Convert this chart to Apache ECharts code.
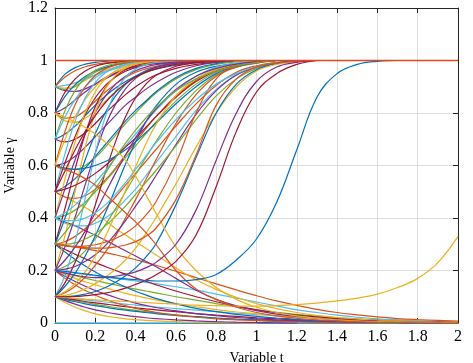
<!DOCTYPE html>
<html>
<head>
<meta charset="utf-8">
<script src="https://cdn.jsdelivr.net/npm/echarts@6/dist/echarts.min.js"></script>
<style>
  html, body { margin: 0; padding: 0; background: #fff; }
  #chart { width: 473px; height: 363px; }
</style>
</head>
<body>
<div id="chart"></div>
<script>
// shared time grid (Variable t)
const tGrid = [0, 0.05, 0.1, 0.15, 0.2, 0.25, 0.3, 0.35, 0.4, 0.45, 0.5,
  0.6, 0.7, 0.8, 0.9, 1.0, 1.1, 1.2, 1.3, 1.4, 1.5, 1.6, 1.7, 1.8, 1.9, 2.0]

// curves that settle at 1 (values stop once they reach 1)
const riseCurves = [
  [0.9, 0.948, 0.973, 0.986, 0.993, 0.997, 1],
  [0.9, 0.937, 0.961, 0.976, 0.985, 0.991, 0.995, 0.997, 1],
  [0.9, 0.895, 0.905, 0.925, 0.945, 0.962, 0.975, 0.984, 0.99, 0.994, 0.997, 1],
  [0.9, 0.885, 0.882, 0.892, 0.91, 0.93, 0.95, 0.966, 0.977, 0.985, 0.99, 0.996, 1],
  [0.9, 0.89, 0.9, 0.93, 0.955, 0.972, 0.983, 0.99, 0.995, 1],
  [0.9, 0.905, 0.915, 0.93, 0.945, 0.958, 0.969, 0.978, 0.985, 0.99, 0.993, 0.997, 1],
  [0.8, 0.88, 0.93, 0.96, 0.978, 0.988, 0.993, 0.996, 1],
  [0.8, 0.863, 0.908, 0.939, 0.96, 0.974, 0.984, 0.99, 0.993, 0.996, 1],
  [0.8, 0.78, 0.785, 0.81, 0.845, 0.88, 0.91, 0.935, 0.955, 0.968, 0.978, 0.99, 0.996, 1],
  [0.8, 0.77, 0.765, 0.78, 0.81, 0.845, 0.88, 0.91, 0.935, 0.953, 0.967, 0.985, 0.994, 1],
  [0.8, 0.82, 0.85, 0.88, 0.91, 0.935, 0.953, 0.967, 0.977, 0.985, 0.99, 0.996, 1],
  [0.7, 0.81, 0.886, 0.934, 0.963, 0.979, 0.988, 0.994, 0.997, 1],
  [0.7, 0.786, 0.852, 0.9, 0.934, 0.957, 0.972, 0.982, 0.988, 0.993, 0.995, 0.998, 1],
  [0.7, 0.69, 0.7, 0.725, 0.76, 0.8, 0.835, 0.87, 0.9, 0.925, 0.945, 0.97, 0.985, 0.993, 1],
  [0.7, 0.72, 0.75, 0.79, 0.83, 0.865, 0.895, 0.92, 0.94, 0.955, 0.967, 0.982, 0.991, 0.996, 1],
  [0.6, 0.731, 0.832, 0.9, 0.943, 0.968, 0.982, 0.99, 0.994, 0.997, 1],
  [0.6, 0.7, 0.786, 0.852, 0.9, 0.934, 0.957, 0.972, 0.982, 0.988, 0.993, 0.997, 1],
  [0.6, 0.61, 0.635, 0.67, 0.71, 0.75, 0.79, 0.83, 0.86, 0.89, 0.915, 0.955, 0.98, 0.993, 1],
  [0.6, 0.585, 0.585, 0.6, 0.63, 0.67, 0.715, 0.76, 0.8, 0.84, 0.875, 0.93, 0.965, 0.985, 0.995, 1],
  [0.5, 0.646, 0.769, 0.858, 0.917, 0.953, 0.973, 0.985, 0.992, 0.995, 0.998, 1],
  [0.5, 0.611, 0.711, 0.794, 0.858, 0.905, 0.937, 0.959, 0.973, 0.983, 0.989, 0.995, 0.998, 1],
  [0.5, 0.52, 0.55, 0.59, 0.635, 0.68, 0.725, 0.77, 0.81, 0.845, 0.88, 0.935, 0.97, 0.988, 1],
  [0.5, 0.48, 0.475, 0.485, 0.51, 0.545, 0.59, 0.64, 0.69, 0.74, 0.785, 0.865, 0.925, 0.965, 0.985, 0.995, 1],
  [0.4, 0.55, 0.69, 0.802, 0.881, 0.931, 0.961, 0.978, 0.988, 0.993, 0.996, 1],
  [0.4, 0.512, 0.622, 0.721, 0.802, 0.864, 0.909, 0.94, 0.961, 0.975, 0.984, 0.993, 0.997, 1],
  [0.4, 0.41, 0.43, 0.46, 0.5, 0.54, 0.585, 0.63, 0.675, 0.72, 0.765, 0.845, 0.91, 0.955, 0.98, 0.993, 1],
  [0.4, 0.38, 0.37, 0.37, 0.38, 0.4, 0.43, 0.47, 0.51, 0.56, 0.61, 0.71, 0.81, 0.89, 0.945, 0.975, 0.99, 1],
  [0.3, 0.438, 0.587, 0.721, 0.825, 0.896, 0.94, 0.966, 0.981, 0.99, 0.994, 0.998, 1],
  [0.3, 0.4, 0.512, 0.622, 0.721, 0.802, 0.864, 0.909, 0.94, 0.961, 0.975, 0.99, 0.996, 1],
  [0.3, 0.31, 0.33, 0.36, 0.395, 0.435, 0.48, 0.525, 0.57, 0.615, 0.66, 0.75, 0.835, 0.905, 0.955, 0.98, 0.993, 1],
  [0.2, 0.334, 0.502, 0.67, 0.804, 0.892, 0.943, 0.971, 0.985, 0.993, 0.996, 1],
  [0.2, 0.291, 0.404, 0.527, 0.648, 0.752, 0.833, 0.892, 0.932, 0.957, 0.974, 0.99, 0.996, 1],
  [0.2, 0.215, 0.24, 0.275, 0.32, 0.375, 0.435, 0.5, 0.565, 0.63, 0.69, 0.8, 0.885, 0.945, 0.975, 0.99, 1],
  [0.1, 0.182, 0.31, 0.475, 0.646, 0.786, 0.881, 0.937, 0.968, 0.984, 0.992, 0.998, 1],
  [0.1, 0.154, 0.231, 0.332, 0.45, 0.574, 0.69, 0.786, 0.858, 0.909, 0.943, 0.978, 0.992, 0.997, 1],
  [0.1, 0.14, 0.19, 0.255, 0.332, 0.42, 0.512, 0.606, 0.69, 0.765, 0.825, 0.909, 0.955, 0.978, 0.989, 0.995, 1],
  [0.1, 0.115, 0.14, 0.175, 0.22, 0.27, 0.33, 0.4, 0.47, 0.545, 0.62, 0.76, 0.87, 0.94, 0.975, 0.99, 1],
  [0.1, 0.105, 0.115, 0.13, 0.15, 0.175, 0.205, 0.24, 0.285, 0.34, 0.4, 0.53, 0.67, 0.8, 0.9, 0.96, 0.985, 0.996, 1],
  [0.2, 0.205, 0.215, 0.235, 0.26, 0.295, 0.34, 0.39, 0.445, 0.5, 0.56, 0.68, 0.795, 0.885, 0.945, 0.975, 0.99, 1],
  [0.3, 0.3, 0.305, 0.32, 0.34, 0.37, 0.405, 0.445, 0.49, 0.535, 0.58, 0.675, 0.775, 0.865, 0.93, 0.97, 0.99, 1],
  [0.4, 0.42, 0.45, 0.49, 0.535, 0.58, 0.63, 0.675, 0.72, 0.765, 0.81, 0.885, 0.94, 0.975, 0.99, 1],
  [0.5, 0.51, 0.525, 0.545, 0.57, 0.6, 0.635, 0.67, 0.705, 0.745, 0.785, 0.86, 0.92, 0.96, 0.983, 0.995, 1],
  [0.6, 0.59, 0.585, 0.59, 0.6, 0.615, 0.635, 0.66, 0.69, 0.725, 0.76, 0.835, 0.9, 0.95, 0.978, 0.992, 1],
  [0.3, 0.295, 0.292, 0.293, 0.298, 0.308, 0.322, 0.342, 0.37, 0.41, 0.46, 0.61, 0.8, 0.93, 0.98, 0.995, 1],
  [0.1, 0.12, 0.15, 0.195, 0.255, 0.33, 0.415, 0.505, 0.595, 0.68, 0.755, 0.865, 0.93, 0.966, 0.985, 0.995, 1],
  [0.2, 0.24, 0.29, 0.35, 0.42, 0.495, 0.57, 0.64, 0.705, 0.765, 0.815, 0.89, 0.94, 0.97, 0.986, 0.995, 1],
  [0.3, 0.345, 0.395, 0.45, 0.51, 0.57, 0.63, 0.685, 0.735, 0.78, 0.82, 0.885, 0.93, 0.96, 0.98, 0.992, 1],
  [0.4, 0.39, 0.39, 0.4, 0.42, 0.45, 0.49, 0.535, 0.585, 0.635, 0.685, 0.775, 0.85, 0.91, 0.95, 0.977, 0.992, 1],
  [0.5, 0.58, 0.66, 0.73, 0.79, 0.84, 0.88, 0.912, 0.937, 0.955, 0.968, 0.985, 0.994, 1],
  [0.1, 0.1, 0.103, 0.11, 0.12, 0.135, 0.155, 0.18, 0.21, 0.25, 0.3, 0.45, 0.63, 0.8, 0.91, 0.965, 0.99, 1]
]

// curves that die out towards 0
const fallCurves = [
  [0.1, 0.078, 0.06, 0.046, 0.035, 0.027, 0.021, 0.016, 0.013, 0.01, 0.008, 0.005, 0.003, 0.002, 0.001, 0],
  [0.1, 0.085, 0.072, 0.06, 0.05, 0.042, 0.035, 0.029, 0.024, 0.02, 0.017, 0.012, 0.008, 0.005, 0.003, 0.002, 0.001, 0],
  [0.1, 0.092, 0.085, 0.078, 0.071, 0.065, 0.059, 0.053, 0.048, 0.043, 0.039, 0.031, 0.024, 0.019, 0.014, 0.011, 0.008, 0.006, 0.004, 0.003, 0.002, 0.001, 0],
  [0.1, 0.096, 0.092, 0.088, 0.084, 0.08, 0.076, 0.072, 0.068, 0.065, 0.061, 0.055, 0.049, 0.043, 0.037, 0.032, 0.027, 0.022, 0.018, 0.014, 0.011, 0.008, 0.006, 0.004, 0.003, 0.002],
  [0.1, 0.094, 0.088, 0.082, 0.077, 0.072, 0.067, 0.062, 0.058, 0.054, 0.05, 0.043, 0.036, 0.03, 0.025, 0.02, 0.016, 0.012, 0.009, 0.007, 0.005, 0.004, 0.003, 0.002, 0.001, 0.001],
  [0.1, 0.09, 0.081, 0.073, 0.066, 0.06, 0.054, 0.049, 0.044, 0.04, 0.036, 0.029, 0.024, 0.019, 0.015, 0.012, 0.009, 0.007, 0.005, 0.004, 0.003, 0.002, 0.001, 0],
  [0.2, 0.17, 0.145, 0.124, 0.106, 0.09, 0.077, 0.066, 0.056, 0.048, 0.041, 0.03, 0.022, 0.016, 0.012, 0.009, 0.006, 0.004, 0.003, 0.002, 0.001, 0],
  [0.2, 0.185, 0.17, 0.157, 0.145, 0.134, 0.123, 0.113, 0.104, 0.096, 0.088, 0.074, 0.062, 0.051, 0.042, 0.035, 0.028, 0.023, 0.018, 0.015, 0.012, 0.009, 0.007, 0.005, 0.004, 0.003],
  [0.2, 0.178, 0.158, 0.14, 0.124, 0.11, 0.097, 0.086, 0.076, 0.067, 0.059, 0.046, 0.036, 0.028, 0.021, 0.016, 0.012, 0.009, 0.007, 0.005, 0.004, 0.003, 0.002, 0.001, 0.001, 0],
  [0.2, 0.19, 0.18, 0.171, 0.162, 0.153, 0.145, 0.137, 0.129, 0.122, 0.115, 0.1, 0.087, 0.074, 0.062, 0.051, 0.041, 0.033, 0.026, 0.02, 0.016, 0.012, 0.009, 0.007, 0.005, 0.004],
  [0.2, 0.195, 0.19, 0.185, 0.18, 0.175, 0.17, 0.165, 0.16, 0.155, 0.15, 0.138, 0.125, 0.11, 0.095, 0.08, 0.065, 0.05, 0.04, 0.03, 0.022, 0.016, 0.012, 0.009, 0.007, 0.005],
  [0.3, 0.28, 0.262, 0.245, 0.23, 0.215, 0.2, 0.186, 0.172, 0.159, 0.146, 0.122, 0.1, 0.081, 0.064, 0.05, 0.039, 0.03, 0.023, 0.017, 0.013, 0.01, 0.007, 0.005, 0.004, 0.003],
  [0.3, 0.27, 0.242, 0.217, 0.194, 0.173, 0.154, 0.137, 0.121, 0.107, 0.094, 0.073, 0.056, 0.043, 0.033, 0.025, 0.019, 0.014, 0.01, 0.008, 0.006, 0.004, 0.003, 0.002, 0.001, 0],
  [0.3, 0.295, 0.289, 0.283, 0.276, 0.268, 0.26, 0.251, 0.241, 0.231, 0.22, 0.197, 0.173, 0.149, 0.126, 0.104, 0.084, 0.067, 0.052, 0.04, 0.031, 0.023, 0.017, 0.013, 0.01, 0.007],
  [0.5, 0.48, 0.46, 0.44, 0.415, 0.39, 0.36, 0.335, 0.31, 0.285, 0.26, 0.21, 0.165, 0.128, 0.098, 0.074, 0.055, 0.04, 0.029, 0.021, 0.015, 0.011, 0.008, 0.006, 0.004, 0.003],
  [0.4, 0.385, 0.37, 0.352, 0.334, 0.315, 0.295, 0.275, 0.255, 0.235, 0.215, 0.17, 0.125, 0.09, 0.065, 0.047, 0.034, 0.025, 0.018, 0.013, 0.01, 0.007, 0.005, 0.004, 0.003, 0.002]
]

// the few curves that stand out
const redLate = [0.3, 0.295, 0.29, 0.287, 0.285, 0.285, 0.29, 0.297, 0.31, 0.33, 0.36, 0.47, 0.64, 0.83, 0.93, 0.975, 0.99, 0.997, 1]
const purpleLate = [0.2, 0.19, 0.182, 0.176, 0.173, 0.174, 0.178, 0.185, 0.195, 0.21, 0.23, 0.3, 0.43, 0.62, 0.8, 0.92, 0.975, 0.993, 1]
const darkRedLate = [0.1, 0.1, 0.101, 0.104, 0.108, 0.114, 0.122, 0.133, 0.147, 0.163, 0.183, 0.235, 0.335, 0.52, 0.73, 0.88, 0.95, 0.985, 1]
const blueLate = [0.2, 0.197, 0.192, 0.187, 0.182, 0.177, 0.172, 0.168, 0.165, 0.162, 0.16, 0.16, 0.165, 0.185, 0.24, 0.32, 0.46, 0.66, 0.86, 0.95, 0.985, 0.997, 1]
const orangeLong = [0.1, 0.097, 0.094, 0.091, 0.088, 0.086, 0.084, 0.082, 0.08, 0.078, 0.076, 0.072, 0.068, 0.066, 0.064, 0.064, 0.066, 0.07, 0.076, 0.084, 0.095, 0.11, 0.135, 0.17, 0.23, 0.33]
const orangeFall = [0.8, 0.785, 0.765, 0.745, 0.72, 0.69, 0.66, 0.62, 0.56, 0.49, 0.42, 0.29, 0.2, 0.135, 0.09, 0.06, 0.04, 0.027, 0.018, 0.012, 0.008, 0.005, 0.004, 0.003, 0.002, 0.001]
const redFall = [0.6, 0.585, 0.57, 0.55, 0.525, 0.49, 0.455, 0.42, 0.385, 0.345, 0.3, 0.2, 0.13, 0.09, 0.06, 0.04, 0.027, 0.018, 0.012, 0.008, 0.005, 0.003, 0.002, 0.001, 0.001, 0]

// the two fixed points, drawn across the whole range
const flatT = [0, 2]
const oneLine = [1, 1]
const zeroLine = [0, 0]

const xTicks = { min: 0, max: 2, interval: 0.2 }
const yTicks = { min: 0, max: 1.2, interval: 0.2 }

const palette = ['#0072BD', '#D95319', '#EDB120', '#7E2F8E', '#77AC30', '#4DBEEE', '#A2142F']
const font = 'Liberation Serif, Times New Roman, serif'
const frame = '#262626'

const toPairs = (ys, xs) => ys.map((y, i) => [(xs || tGrid)[i], y])

const curve = (ys, color, xs, width) => ({
  type: 'line',
  data: toPairs(ys, xs),
  smooth: 0.4,
  symbol: 'none',
  showSymbol: false,
  silent: true,
  clip: false,
  lineStyle: { width: width || 1.2, color: color, opacity: 1 },
  itemStyle: { color: color },
  animation: false
})

const series = [curve(zeroLine, '#4DBEEE', flatT, 1.6)]
fallCurves.forEach((ys, i) => series.push(curve(ys, palette[(i + 2) % 7])))
riseCurves.forEach((ys, i) => series.push(curve(ys, palette[i % 7])))
series.push(
  curve(orangeLong, '#EDB120'),
  curve(orangeFall, '#EDB120'),
  curve(redFall, '#D95319'),
  curve(redLate, '#D95319'),
  curve(purpleLate, '#7E2F8E'),
  curve(darkRedLate, '#A2142F'),
  curve(blueLate, '#0072BD'),
  Object.assign(curve(oneLine, '#E2461C', flatT, 1.5), { z: 5 })
)

const tickLabel = { color: '#000', fontFamily: font, fontSize: 16 }
const nameStyle = { color: '#000', fontFamily: font, fontSize: 14 }
const sideAxis = (pos, ticks) => Object.assign({
  type: 'value',
  position: pos,
  axisLine: { show: true, onZero: false, lineStyle: { color: frame, width: 1 } },
  axisTick: { show: true, inside: true, length: 5, lineStyle: { color: frame } },
  axisLabel: { show: false },
  splitLine: { show: false }
}, ticks)

const option = {
  backgroundColor: '#fff',
  grid: { left: 55, right: 15, top: 8, bottom: 40, outerBoundsMode: 'none' },
  xAxis: [
    Object.assign(sideAxis('bottom', xTicks), {
      name: 'Variable t',
      nameLocation: 'middle',
      nameGap: 28,
      nameTextStyle: nameStyle,
      axisLabel: Object.assign({ show: true, margin: 6 }, tickLabel),
      splitLine: { show: true, lineStyle: { color: '#dedede', width: 1 } }
    }),
    sideAxis('top', xTicks)
  ],
  yAxis: [
    Object.assign(sideAxis('left', yTicks), {
      name: 'Variable γ',
      nameLocation: 'middle',
      nameGap: 32,
      nameTextStyle: nameStyle,
      axisLabel: Object.assign({ show: true, margin: 7 }, tickLabel),
      splitLine: { show: true, lineStyle: { color: '#dedede', width: 1 } }
    }),
    sideAxis('right', yTicks)
  ],
  series
}

const chart = echarts.init(document.getElementById('chart'), null, { renderer: 'canvas' })
chart.setOption(option)
</script>
</body>
</html>
